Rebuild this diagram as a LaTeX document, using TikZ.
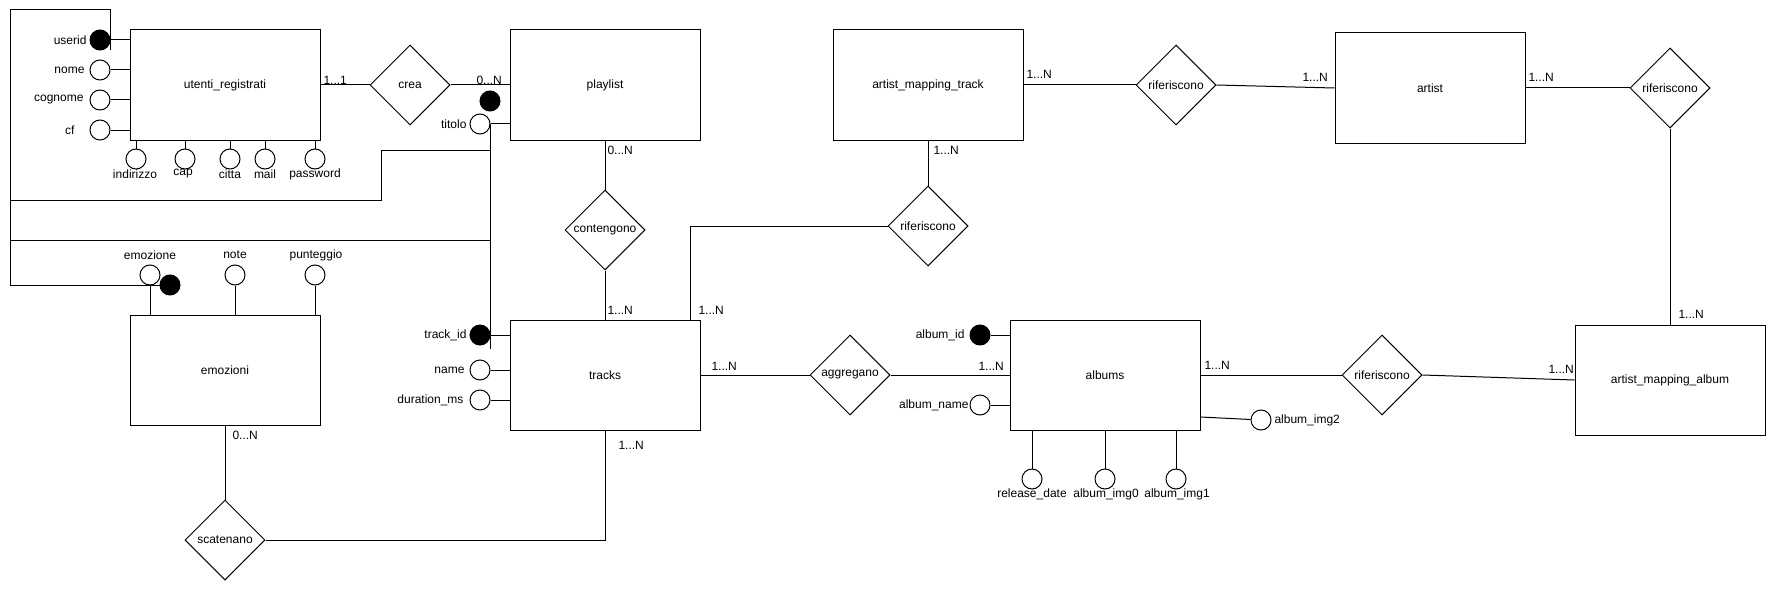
\documentclass[tikz,border=0pt]{standalone}
\usepackage{fontspec}
\setmainfont{Liberation Sans}
\usetikzlibrary{shapes.geometric}

\begin{document}
\begin{tikzpicture}[x = 1pt, y = -1pt, line width = 1pt,
                        font = \fontsize{12}{14}\selectfont,
                        entity/.style = {rectangle, draw, minimum width = 190pt, minimum height = 110pt},
                        relation/.style = {diamond, draw, minimum width = 80pt, minimum height = 80pt, inner sep = 0pt},
                        attr/.style = {circle, draw, fill = white, minimum size = 20pt, inner sep = 0pt},
                        keyattr/.style = {circle, draw, fill = black, minimum size = 20pt, inner sep = 0pt},
                        txt/.style = {inner sep = 0pt},
                        card/.style = {inner sep = 0pt, anchor = west}]
      \useasboundingbox (0, 0) rectangle (1776, 591);
      \node [entity] (utenti) at (225, 85){utenti\_registrati};
      \node [entity] (playlist) at (605, 85){playlist};
      \node [entity] (amtrack) at (928, 85){artist\_mapping\_track};
      \node [entity] (artist) at (1430, 88){artist};
      \node [entity] (emozioni) at (225, 370){emozioni};
      \node [entity] (tracks) at (605, 375){tracks};
      \node [entity] (albums) at (1105, 375){albums};
      \node [entity] (amalbum) at (1670, 380){artist\_mapping\_album};
      \node [relation] (crea) at (410, 85){crea};
      \node [relation] (contengono) at (605, 230){contengono};
      \node [relation] (rifA) at (928, 226){riferiscono};
      \node [relation] (rifB) at (1176, 85){riferiscono};
      \node [relation] (rifC) at (1670, 88){riferiscono};
      \node [relation] (rifD) at (1382, 375){riferiscono};
      \node [relation] (aggregano) at (850, 375){aggregano};
      \node [relation] (scatenano) at (225, 540){scatenano};
      \node [keyattr] (userid) at (100, 40){};
      \node [attr] (nome) at (100, 70){};
      \node [attr] (cognome) at (100, 100){};
      \node [attr] (cf) at (100, 130){};
      \node [attr] (indirizzo) at (136, 159){};
      \node [attr] (cap) at (185, 159){};
      \node [attr] (citta) at (230, 159){};
      \node [attr] (mail) at (265, 159){};
      \node [attr] (password) at (315, 159){};
      \node [keyattr] (plkey) at (490, 101){};
      \node [attr] (titolo) at (480, 124){};
      \node [attr] (emozione) at (150, 275){};
      \node [keyattr] (emokey) at (170, 285){};
      \node [attr] (note) at (235, 275){};
      \node [attr] (punteggio) at (315, 275){};
      \node [keyattr] (trackid) at (480, 335){};
      \node [attr] (trname) at (480, 370){};
      \node [attr] (duration) at (480, 400){};
      \node [keyattr] (albumid) at (980, 335){};
      \node [attr] (albumname) at (980, 405){};
      \node [attr] (albumimgB) at (1261, 420){};
      \node [attr] (releasedate) at (1032, 479){};
      \node [attr] (albumimgZ) at (1105, 479){};
      \node [attr] (albumimgA) at (1176, 479){};
      \node [txt, anchor = east] (l-userid) at (87, 40){userid};
      \node [txt, anchor = east] (l-nome) at (85, 70){nome};
      \node [txt, anchor = east] (l-cognome) at (84, 100){cognome};
      \node [txt, anchor = east] (l-cf) at (75, 130){cf};
      \node [txt] (l-indirizzo) at (135, 174){indirizzo};
      \node [txt] (l-cap) at (183, 174){cap};
      \node [txt] (l-citta) at (230, 174){citta};
      \node [txt] (l-mail) at (265, 174){mail};
      \node [txt] (l-password) at (315, 174){password};
      \node [txt, anchor = east] (l-titolo) at (467, 124){titolo};
      \node [txt] (l-emozione) at (150, 255){emozione};
      \node [txt] (l-note) at (235, 255){note};
      \node [txt] (l-punteggio) at (316, 255){punteggio};
      \node [txt, anchor = east] (l-trackid) at (467, 335){track\_id};
      \node [txt, anchor = east] (l-trname) at (465, 370){name};
      \node [txt, anchor = east] (l-duration) at (464, 400){duration\_ms};
      \node [txt, anchor = east] (l-albumid) at (965, 335){album\_id};
      \node [txt, anchor = east] (l-albumname) at (969, 405){album\_name};
      \node [txt, anchor = west] (l-albumimgB) at (1274, 420){album\_img2};
      \node [txt] (l-releasedate) at (1032, 494){release\_date};
      \node [txt] (l-albumimgZ) at (1106, 494){album\_img0};
      \node [txt] (l-albumimgA) at (1177, 494){album\_img1};
      \node [card] (k1) at (323, 80){1...1};
      \node [card] (k2) at (476, 80){0...N};
      \node [card] (k3) at (607, 150){0...N};
      \node [card] (k4) at (607, 310){1...N};
      \node [card] (k5) at (698, 310){1...N};
      \node [card] (k6) at (933, 150){1...N};
      \node [card] (k7) at (1026, 74){1...N};
      \node [card] (k8) at (1302, 77){1...N};
      \node [card] (k9) at (1528, 77){1...N};
      \node [card] (k10) at (1678, 314){1...N};
      \node [card] (k11) at (1204, 365){1...N};
      \node [card] (k12) at (1548, 369){1...N};
      \node [card] (k13) at (711, 366){1...N};
      \node [card] (k14) at (978, 366){1...N};
      \node [card] (k15) at (232, 435){0...N};
      \node [card] (k16) at (618, 445){1...N};
      \coordinate (loopTL) at (10, 10);
      \coordinate (loopBL) at (10, 285);
      \coordinate (bendA) at (381, 150);
      \coordinate (bendB) at (381, 200);
      \coordinate (bendC) at (10, 240);
      \draw (utenti) -- (crea);
      \draw (crea) -- (playlist);
      \draw (playlist) -- (contengono);
      \draw (contengono) -- (tracks);
      \draw (amtrack) -- (rifA);
      \draw (rifA.west) -| ([xshift = -10pt]tracks.north east);
      \draw (amtrack) -- (rifB);
      \draw (rifB.east) -- (artist.west);
      \draw (artist) -- (rifC);
      \draw (rifC) -- (amalbum);
      \draw (tracks) -- (aggregano);
      \draw (aggregano) -- (albums);
      \draw (albums) -- (rifD);
      \draw (rifD.east) -- (amalbum.west);
      \draw (emozioni) -- (scatenano);
      \draw (scatenano.east) -| (tracks.south);
      \draw (userid) -- (userid -| utenti.west);
      \draw (nome) -- (nome -| utenti.west);
      \draw (cognome) -- (cognome -| utenti.west);
      \draw (cf) -- (cf -| utenti.west);
      \draw (indirizzo) -- (indirizzo |- utenti.south);
      \draw (cap) -- (cap |- utenti.south);
      \draw (citta) -- (citta |- utenti.south);
      \draw (mail) -- (mail |- utenti.south);
      \draw (password) -- (password |- utenti.south);
      \draw (titolo) -- (titolo -| playlist.west);
      \draw (emozione) -- (emozione |- emozioni.north);
      \draw (note) -- (note |- emozioni.north);
      \draw (punteggio) -- (punteggio |- emozioni.north);
      \draw (trackid) -- (trackid -| tracks.west);
      \draw (trname) -- (trname -| tracks.west);
      \draw (duration) -- (duration -| tracks.west);
      \draw (albumid) -- (albumid -| albums.west);
      \draw (albumname) -- (albumname -| albums.west);
      \draw ([yshift = -42pt]albums.east) -- (albumimgB);
      \draw (releasedate) -- (releasedate |- albums.south);
      \draw (albumimgZ) -- (albumimgZ |- albums.south);
      \draw (albumimgA) -- (albumimgA |- albums.south);
      \draw ([yshift = -10pt]userid.east) -- (userid.east |- loopTL) -- (loopTL) -- (loopBL) -- (emokey);
      \draw (titolo.east) -- ([yshift = -14pt]trackid.east);
      \draw (titolo.east |- bendA) -- (bendA) -- (bendB) -- (loopTL |- bendB);
      \draw (bendC) -- (titolo.east |- bendC);
    \end{tikzpicture}
\end{document}
